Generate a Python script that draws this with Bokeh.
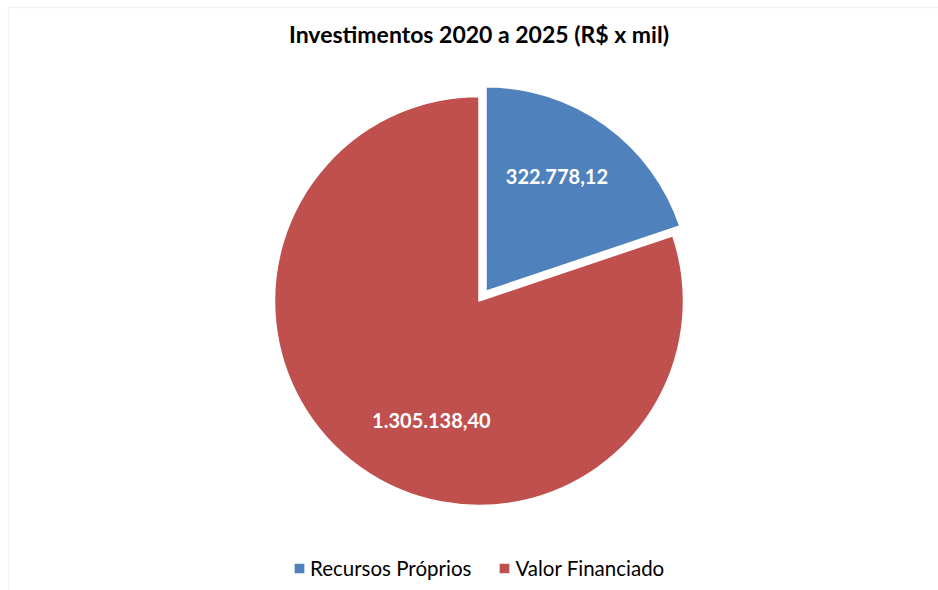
import numpy as np
from bokeh.plotting import figure, ColumnDataSource
from bokeh.models import Range1d, Label, Legend, LegendItem, BoxAnnotation
from bokeh.embed import file_html
from bokeh.resources import INLINE

# ---- data ----
title_text = "Investimentos 2020 a 2025 (R$ x mil)"
categories = ["Recursos Próprios", "Valor Financiado"]
values = [322778.12, 1305138.40]
value_labels = ["322.778,12", "1.305.138,40"]
colors = ["#4F81BD", "#C0504D"]
explode = [12, 0]          # px offset along bisector

# ---- layout ----
W, H = 938, 590
CX, CY = 478.5, 289.5      # pie centre in data (=pixel) coords, y up
R = 204.5
FONT = "Lato"

vals = np.array(values, dtype=float)
frac = vals / vals.sum()
ang = 2 * np.pi * frac
ends = np.pi / 2 - np.concatenate([[0], np.cumsum(ang)[:-1]])   # clockwise from 12 o'clock
starts = ends - ang
mids = (starts + ends) / 2
xs = CX + np.array(explode) * np.cos(mids)
ys = CY + np.array(explode) * np.sin(mids)

src = ColumnDataSource(dict(x=xs.tolist(), y=ys.tolist(), start=starts.tolist(),
                            end=ends.tolist(), color=colors, cat=categories))

p = figure(width=W, height=H, output_backend="svg", toolbar_location=None,
           x_range=Range1d(0, W), y_range=Range1d(0, H),
           min_border=0, tools="")
p.axis.visible = False
p.grid.visible = False
p.outline_line_color = None
p.background_fill_color = "white"
p.border_fill_color = "white"

# chart-area border (top and left visible, rest runs off the page)
p.add_layout(BoxAnnotation(left=8, top=H - 7, right=W + 20, bottom=-20,
                           fill_alpha=0, line_color="#d9d9d9", line_width=1.5))

r = p.wedge(x="x", y="y", radius=R, start_angle="start", end_angle="end",
            fill_color="color", line_color="white", line_width=1.5, source=src)

# data labels
label_r = [0.66, 0.63]
label_shift = [np.radians(4), np.radians(14)]
for i, txt in enumerate(value_labels):
    a = mids[i] + label_shift[i]
    lx = float(xs[i] + label_r[i] * R * np.cos(a))
    ly = float(ys[i] + label_r[i] * R * np.sin(a))
    p.add_layout(Label(x=lx, y=ly, text=txt, text_color="white", text_font=FONT,
                       text_font_style="bold", text_font_size="20px",
                       text_align="center", text_baseline="middle"))

# title
p.add_layout(Label(x=CX, y=H - 33, text=title_text, text_font=FONT,
                   text_font_style="bold", text_font_size="23px", text_color="black",
                   text_align="center", text_baseline="middle"))

legend = Legend(items=[LegendItem(label=categories[i], renderers=[r], index=i) for i in range(2)],
                orientation="horizontal", location=(292, 10),
                label_text_font=FONT, label_text_font_size="20.5px", label_text_color="#000000",
                glyph_width=14, glyph_height=14, label_standoff=4, spacing=26,
                padding=0, margin=0, border_line_color=None, background_fill_alpha=0,
                label_height=20)
p.add_layout(legend)

open("out.html", "w").write(file_html(p, INLINE))
